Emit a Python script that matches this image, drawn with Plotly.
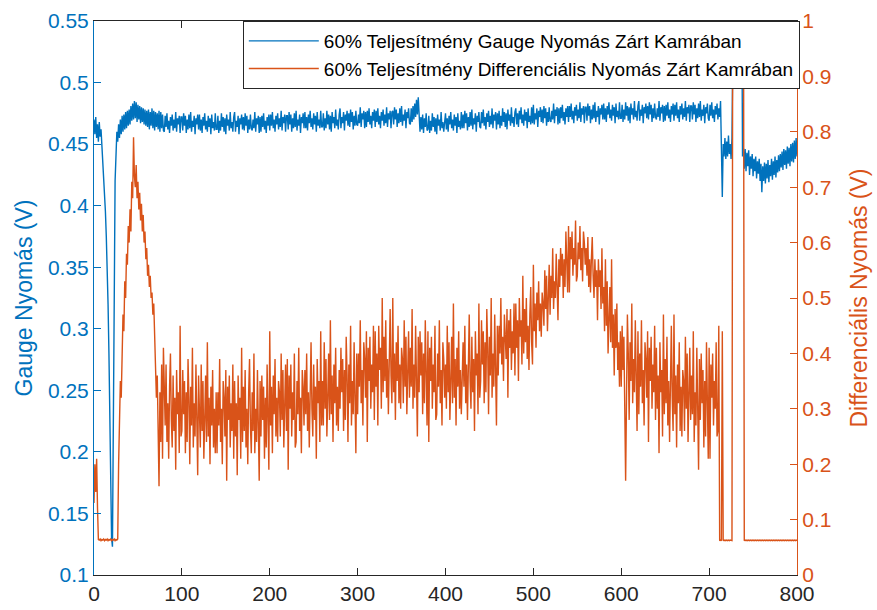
import plotly.graph_objects as go

# time axis (s), one sample per unit
t = list(range(0, 801))

gauge = [
    0.47, 0.458, 0.472, 0.455, 0.466, 0.452, 0.468, 0.456, 0.462, 0.45, 0.44, 0.428, 0.415, 0.395, 0.375, 0.355, 0.32, 0.28, 0.23, 0.17,
    0.13, 0.123, 0.2, 0.32, 0.42, 0.452, 0.46, 0.452, 0.466, 0.455, 0.47, 0.458, 0.473, 0.46, 0.474, 0.462, 0.476, 0.463, 0.477, 0.465,
    0.478, 0.466, 0.481, 0.469, 0.483, 0.47, 0.485, 0.471, 0.484, 0.468, 0.482, 0.47, 0.481, 0.467, 0.48, 0.468, 0.479, 0.466, 0.478, 0.465,
    0.477, 0.464, 0.478, 0.462, 0.476, 0.465, 0.479, 0.463, 0.477, 0.461, 0.476, 0.464, 0.475, 0.462, 0.477, 0.46, 0.476, 0.463, 0.474, 0.461,
    0.46, 0.473, 0.464, 0.475, 0.462, 0.469, 0.459, 0.472, 0.465, 0.474, 0.461, 0.47, 0.463, 0.476, 0.46, 0.471, 0.466, 0.473, 0.459, 0.472,
    0.472, 0.461, 0.475, 0.465, 0.473, 0.459, 0.47, 0.462, 0.474, 0.463, 0.476, 0.46, 0.469, 0.464, 0.473, 0.458, 0.471, 0.466, 0.474, 0.462,
    0.474, 0.461, 0.47, 0.459, 0.472, 0.465, 0.475, 0.462, 0.469, 0.46, 0.473, 0.464, 0.471, 0.458, 0.474, 0.463, 0.468, 0.461, 0.475, 0.462,
    0.462, 0.473, 0.459, 0.469, 0.461, 0.475, 0.464, 0.472, 0.46, 0.471, 0.458, 0.474, 0.465, 0.47, 0.461, 0.476, 0.463, 0.468, 0.46, 0.472,
    0.476, 0.46, 0.469, 0.464, 0.473, 0.458, 0.471, 0.466, 0.474, 0.462, 0.472, 0.461, 0.475, 0.465, 0.473, 0.459, 0.47, 0.462, 0.474, 0.463,
    0.461, 0.47, 0.463, 0.476, 0.46, 0.471, 0.466, 0.473, 0.459, 0.472, 0.46, 0.473, 0.464, 0.475, 0.462, 0.469, 0.459, 0.472, 0.465, 0.474,
    0.461, 0.474, 0.465, 0.476, 0.463, 0.47, 0.46, 0.473, 0.466, 0.475, 0.462, 0.471, 0.464, 0.477, 0.461, 0.472, 0.467, 0.474, 0.46, 0.473,
    0.473, 0.462, 0.476, 0.466, 0.474, 0.46, 0.471, 0.463, 0.475, 0.464, 0.477, 0.461, 0.47, 0.465, 0.474, 0.459, 0.472, 0.467, 0.475, 0.463,
    0.476, 0.463, 0.472, 0.461, 0.474, 0.467, 0.477, 0.464, 0.471, 0.462, 0.475, 0.466, 0.473, 0.46, 0.476, 0.465, 0.47, 0.463, 0.477, 0.464,
    0.464, 0.475, 0.461, 0.471, 0.463, 0.477, 0.466, 0.474, 0.462, 0.473, 0.46, 0.476, 0.467, 0.472, 0.463, 0.478, 0.465, 0.47, 0.462, 0.474,
    0.479, 0.463, 0.472, 0.467, 0.476, 0.461, 0.474, 0.469, 0.477, 0.465, 0.475, 0.464, 0.478, 0.468, 0.476, 0.462, 0.473, 0.465, 0.477, 0.466,
    0.465, 0.474, 0.467, 0.48, 0.464, 0.475, 0.47, 0.477, 0.463, 0.476, 0.464, 0.477, 0.468, 0.479, 0.466, 0.473, 0.463, 0.476, 0.469, 0.478,
    0.464, 0.477, 0.468, 0.479, 0.466, 0.473, 0.463, 0.476, 0.469, 0.478, 0.465, 0.474, 0.467, 0.48, 0.464, 0.475, 0.47, 0.477, 0.463, 0.476,
    0.477, 0.466, 0.48, 0.47, 0.478, 0.464, 0.475, 0.467, 0.479, 0.468, 0.481, 0.465, 0.474, 0.469, 0.478, 0.463, 0.476, 0.471, 0.479, 0.467,
    0.466, 0.479, 0.468, 0.481, 0.47, 0.483, 0.472, 0.486, 0.474, 0.488, 0.476, 0.46, 0.472, 0.462, 0.474, 0.459, 0.471, 0.464, 0.475, 0.461,
    0.462, 0.473, 0.459, 0.469, 0.461, 0.475, 0.464, 0.472, 0.46, 0.471, 0.458, 0.474, 0.465, 0.47, 0.461, 0.476, 0.463, 0.468, 0.46, 0.472,
    0.475, 0.462, 0.471, 0.46, 0.473, 0.466, 0.476, 0.463, 0.47, 0.461, 0.474, 0.465, 0.472, 0.459, 0.475, 0.464, 0.469, 0.462, 0.476, 0.463,
    0.474, 0.463, 0.477, 0.467, 0.475, 0.461, 0.472, 0.464, 0.476, 0.465, 0.478, 0.462, 0.471, 0.466, 0.475, 0.46, 0.473, 0.468, 0.476, 0.464,
    0.463, 0.476, 0.467, 0.478, 0.465, 0.472, 0.462, 0.475, 0.468, 0.477, 0.464, 0.473, 0.466, 0.479, 0.463, 0.474, 0.469, 0.476, 0.462, 0.475,
    0.466, 0.477, 0.463, 0.473, 0.465, 0.479, 0.468, 0.476, 0.464, 0.475, 0.462, 0.478, 0.469, 0.474, 0.465, 0.48, 0.467, 0.472, 0.464, 0.476,
    0.479, 0.466, 0.475, 0.464, 0.477, 0.47, 0.48, 0.467, 0.474, 0.465, 0.478, 0.469, 0.476, 0.463, 0.479, 0.468, 0.473, 0.466, 0.48, 0.467,
    0.482, 0.466, 0.475, 0.47, 0.479, 0.464, 0.477, 0.472, 0.48, 0.468, 0.478, 0.467, 0.481, 0.471, 0.479, 0.465, 0.476, 0.468, 0.48, 0.469,
    0.468, 0.477, 0.47, 0.483, 0.467, 0.478, 0.473, 0.48, 0.466, 0.479, 0.467, 0.48, 0.471, 0.482, 0.469, 0.476, 0.466, 0.479, 0.472, 0.481,
    0.468, 0.481, 0.472, 0.483, 0.47, 0.477, 0.467, 0.48, 0.473, 0.482, 0.469, 0.478, 0.471, 0.484, 0.468, 0.479, 0.474, 0.481, 0.467, 0.48,
    0.48, 0.469, 0.483, 0.473, 0.481, 0.467, 0.478, 0.47, 0.482, 0.471, 0.484, 0.468, 0.477, 0.472, 0.481, 0.466, 0.479, 0.474, 0.482, 0.47,
    0.483, 0.47, 0.479, 0.468, 0.481, 0.474, 0.484, 0.471, 0.478, 0.469, 0.482, 0.473, 0.48, 0.467, 0.483, 0.472, 0.477, 0.47, 0.484, 0.471,
    0.471, 0.482, 0.468, 0.478, 0.47, 0.484, 0.473, 0.481, 0.469, 0.48, 0.467, 0.483, 0.474, 0.479, 0.47, 0.485, 0.472, 0.477, 0.469, 0.481,
    0.485, 0.469, 0.478, 0.473, 0.482, 0.467, 0.48, 0.475, 0.483, 0.471, 0.481, 0.47, 0.484, 0.474, 0.482, 0.468, 0.479, 0.471, 0.483, 0.472,
    0.47, 0.479, 0.472, 0.485, 0.469, 0.48, 0.475, 0.482, 0.468, 0.481, 0.469, 0.482, 0.473, 0.484, 0.471, 0.478, 0.468, 0.481, 0.474, 0.483,
    0.469, 0.482, 0.473, 0.484, 0.471, 0.478, 0.468, 0.481, 0.474, 0.483, 0.47, 0.479, 0.472, 0.485, 0.469, 0.48, 0.475, 0.482, 0.468, 0.481,
    0.481, 0.47, 0.484, 0.474, 0.482, 0.468, 0.479, 0.471, 0.483, 0.472, 0.485, 0.469, 0.478, 0.473, 0.482, 0.467, 0.48, 0.475, 0.483, 0.471,
    0.469, 0.482, 0.473, 0.484, 0.471, 0.478, 0.468, 0.481, 0.474, 0.483, 0.47, 0.479, 0.472, 0.485, 0.43, 0.407, 0.45, 0.44, 0.455, 0.438,
    0.452, 0.44, 0.457, 0.442, 0.45, 0.438, 0.455, 0.6, 0.6, 0.6, 0.6, 0.6, 0.6, 0.6, 0.6, 0.6, 0.6, 0.6, 0.44, 0.447,
    0.43, 0.446, 0.428, 0.443, 0.432, 0.445, 0.425, 0.44, 0.43, 0.442, 0.424, 0.438, 0.428, 0.44, 0.422, 0.436, 0.426, 0.438, 0.42, 0.434,
    0.411, 0.432, 0.42, 0.435, 0.418, 0.434, 0.422, 0.437, 0.419, 0.433, 0.424, 0.438, 0.421, 0.436, 0.425, 0.44, 0.423, 0.437, 0.427, 0.441,
    0.428, 0.442, 0.431, 0.444, 0.429, 0.446, 0.433, 0.445, 0.43, 0.448, 0.434, 0.447, 0.432, 0.45, 0.436, 0.451, 0.435, 0.453, 0.438, 0.455,
    0.44,
]

differential = [
    0.13, 0.2, 0.15, 0.21, 0.12, 0.064, 0.063, 0.065, 0.062, 0.064, 0.063, 0.065, 0.062, 0.064, 0.063, 0.065, 0.062, 0.064, 0.063, 0.065,
    0.062, 0.064, 0.063, 0.065, 0.062, 0.064, 0.063, 0.065, 0.2, 0.28, 0.35, 0.32, 0.42, 0.47, 0.44, 0.53, 0.5, 0.58, 0.56, 0.63,
    0.6, 0.66, 0.62, 0.71, 0.68, 0.79, 0.72, 0.7, 0.74, 0.68, 0.71, 0.66, 0.69, 0.64, 0.67, 0.62, 0.65, 0.6, 0.62, 0.57,
    0.59, 0.54, 0.56, 0.52, 0.54, 0.5, 0.51, 0.47, 0.49, 0.43, 0.38, 0.32, 0.36, 0.27, 0.16, 0.33, 0.24, 0.38, 0.21, 0.41,
    0.35, 0.27, 0.38, 0.24, 0.31, 0.21, 0.34, 0.40, 0.28, 0.23, 0.36, 0.26, 0.32, 0.19, 0.37, 0.29, 0.33, 0.22, 0.45, 0.25,
    0.26, 0.37, 0.29, 0.35, 0.22, 0.33, 0.24, 0.39, 0.32, 0.20, 0.34, 0.27, 0.41, 0.23, 0.31, 0.25, 0.38, 0.28, 0.18, 0.36,
    0.31, 0.23, 0.38, 0.26, 0.35, 0.21, 0.28, 0.36, 0.24, 0.42, 0.25, 0.32, 0.20, 0.34, 0.27, 0.37, 0.23, 0.30, 0.22, 0.33,
    0.22, 0.33, 0.27, 0.39, 0.24, 0.30, 0.20, 0.35, 0.32, 0.25, 0.37, 0.17, 0.34, 0.28, 0.36, 0.23, 0.31, 0.26, 0.38, 0.21,
    0.35, 0.25, 0.31, 0.18, 0.36, 0.28, 0.32, 0.21, 0.41, 0.24, 0.34, 0.26, 0.37, 0.23, 0.30, 0.20, 0.33, 0.39, 0.27, 0.22,
    0.33, 0.26, 0.40, 0.22, 0.30, 0.24, 0.37, 0.27, 0.17, 0.35, 0.25, 0.36, 0.28, 0.34, 0.21, 0.32, 0.23, 0.38, 0.31, 0.19,
    0.44, 0.27, 0.34, 0.22, 0.36, 0.29, 0.39, 0.25, 0.32, 0.24, 0.35, 0.33, 0.25, 0.40, 0.28, 0.37, 0.23, 0.30, 0.38, 0.26,
    0.39, 0.19, 0.36, 0.30, 0.38, 0.25, 0.33, 0.28, 0.40, 0.23, 0.24, 0.35, 0.29, 0.41, 0.26, 0.32, 0.22, 0.37, 0.34, 0.27,
    0.37, 0.29, 0.40, 0.26, 0.33, 0.23, 0.36, 0.42, 0.30, 0.25, 0.38, 0.28, 0.34, 0.21, 0.39, 0.31, 0.35, 0.24, 0.44, 0.27,
    0.35, 0.27, 0.42, 0.30, 0.39, 0.25, 0.32, 0.40, 0.28, 0.46, 0.29, 0.36, 0.24, 0.38, 0.31, 0.41, 0.27, 0.34, 0.26, 0.37,
    0.30, 0.41, 0.33, 0.39, 0.26, 0.37, 0.28, 0.43, 0.36, 0.24, 0.38, 0.31, 0.45, 0.27, 0.35, 0.29, 0.42, 0.32, 0.22, 0.40,
    0.29, 0.40, 0.34, 0.46, 0.31, 0.37, 0.27, 0.42, 0.39, 0.32, 0.44, 0.24, 0.41, 0.35, 0.43, 0.30, 0.38, 0.33, 0.45, 0.28,
    0.44, 0.34, 0.40, 0.27, 0.45, 0.37, 0.41, 0.30, 0.50, 0.33, 0.43, 0.35, 0.46, 0.32, 0.39, 0.29, 0.42, 0.48, 0.36, 0.31,
    0.50, 0.33, 0.40, 0.28, 0.42, 0.35, 0.45, 0.31, 0.38, 0.30, 0.41, 0.39, 0.31, 0.46, 0.34, 0.43, 0.29, 0.36, 0.44, 0.32,
    0.41, 0.34, 0.48, 0.30, 0.38, 0.32, 0.45, 0.35, 0.25, 0.43, 0.33, 0.44, 0.36, 0.42, 0.29, 0.40, 0.31, 0.46, 0.39, 0.27,
    0.44, 0.24, 0.41, 0.35, 0.43, 0.30, 0.38, 0.33, 0.45, 0.28, 0.29, 0.40, 0.34, 0.46, 0.31, 0.37, 0.27, 0.42, 0.39, 0.32,
    0.38, 0.30, 0.45, 0.33, 0.42, 0.28, 0.35, 0.43, 0.31, 0.49, 0.32, 0.39, 0.27, 0.41, 0.34, 0.44, 0.30, 0.37, 0.29, 0.40,
    0.42, 0.34, 0.45, 0.31, 0.38, 0.28, 0.41, 0.47, 0.35, 0.30, 0.43, 0.33, 0.39, 0.26, 0.44, 0.36, 0.40, 0.29, 0.49, 0.32,
    0.35, 0.46, 0.38, 0.44, 0.31, 0.42, 0.33, 0.48, 0.41, 0.29, 0.43, 0.36, 0.50, 0.32, 0.40, 0.34, 0.47, 0.37, 0.27, 0.45,
    0.36, 0.45, 0.40, 0.50, 0.38, 0.43, 0.35, 0.47, 0.44, 0.39, 0.48, 0.32, 0.46, 0.41, 0.48, 0.37, 0.44, 0.40, 0.49, 0.36,
    0.49, 0.41, 0.46, 0.35, 0.50, 0.43, 0.46, 0.38, 0.54, 0.40, 0.48, 0.42, 0.50, 0.39, 0.45, 0.37, 0.47, 0.52, 0.42, 0.38,
    0.56, 0.44, 0.49, 0.41, 0.51, 0.46, 0.53, 0.44, 0.49, 0.43, 0.51, 0.49, 0.45, 0.55, 0.48, 0.54, 0.44, 0.50, 0.56, 0.47,
    0.54, 0.50, 0.59, 0.48, 0.53, 0.50, 0.58, 0.52, 0.46, 0.57, 0.52, 0.59, 0.54, 0.58, 0.50, 0.57, 0.52, 0.62, 0.58, 0.51,
    0.63, 0.51, 0.61, 0.57, 0.62, 0.54, 0.59, 0.56, 0.64, 0.53, 0.54, 0.60, 0.57, 0.63, 0.55, 0.59, 0.53, 0.62, 0.60, 0.56,
    0.59, 0.54, 0.61, 0.52, 0.57, 0.51, 0.57, 0.61, 0.54, 0.50, 0.57, 0.52, 0.55, 0.46, 0.57, 0.52, 0.55, 0.48, 0.59, 0.49,
    0.52, 0.44, 0.57, 0.45, 0.53, 0.40, 0.46, 0.52, 0.42, 0.57, 0.41, 0.47, 0.36, 0.48, 0.41, 0.49, 0.37, 0.42, 0.34, 0.44,
    0.34, 0.45, 0.37, 0.43, 0.30, 0.17, 0.32, 0.47, 0.40, 0.28, 0.42, 0.35, 0.49, 0.31, 0.39, 0.33, 0.46, 0.36, 0.26, 0.44,
    0.29, 0.40, 0.34, 0.46, 0.31, 0.37, 0.27, 0.42, 0.39, 0.32, 0.44, 0.24, 0.41, 0.35, 0.43, 0.30, 0.38, 0.33, 0.45, 0.28,
    0.41, 0.30, 0.36, 0.22, 0.42, 0.33, 0.37, 0.25, 0.47, 0.29, 0.39, 0.31, 0.43, 0.27, 0.35, 0.24, 0.38, 0.45, 0.32, 0.26,
    0.47, 0.29, 0.36, 0.23, 0.38, 0.31, 0.42, 0.26, 0.34, 0.25, 0.37, 0.35, 0.26, 0.43, 0.30, 0.40, 0.24, 0.32, 0.41, 0.28,
    0.36, 0.29, 0.44, 0.24, 0.33, 0.27, 0.41, 0.30, 0.19, 0.39, 0.28, 0.40, 0.31, 0.37, 0.23, 0.35, 0.25, 0.42, 0.34, 0.21,
    0.41, 0.21, 0.38, 0.32, 0.40, 0.27, 0.35, 0.30, 0.42, 0.25, 0.26, 0.45, 0.062, 0.063, 0.062, 0.44, 0.063, 0.062, 0.063, 0.062,
    0.063, 0.062, 0.063, 0.062, 0.063, 0.062, 0.062, 1.2, 1.2, 1.2, 1.2, 1.2, 1.2, 1.2, 1.2, 1.2, 1.2, 1.2, 1.2, 1.2,
    0.062, 0.063, 0.062, 0.063, 0.062, 0.063, 0.062, 0.063, 0.062, 0.063, 0.062, 0.063, 0.062, 0.063, 0.062, 0.063, 0.062, 0.063, 0.062, 0.063,
    0.062, 0.063, 0.062, 0.063, 0.062, 0.063, 0.062, 0.063, 0.062, 0.063, 0.062, 0.063, 0.062, 0.063, 0.062, 0.063, 0.062, 0.063, 0.062, 0.063,
    0.062, 0.063, 0.062, 0.063, 0.062, 0.063, 0.062, 0.063, 0.062, 0.063, 0.062, 0.063, 0.062, 0.063, 0.062, 0.063, 0.062, 0.063, 0.062, 0.063,
    0.062,
]

x_ticks = [0, 100, 200, 300, 400, 500, 600, 700, 800]
left_ticks = [0.1, 0.15, 0.2, 0.25, 0.3, 0.35, 0.4, 0.45, 0.5, 0.55]
right_ticks = [0, 0.1, 0.2, 0.3, 0.4, 0.5, 0.6, 0.7, 0.8, 0.9, 1]

BLUE = "#0072BD"
ORANGE = "#D95319"
DARK = "#262626"
FONT = "Liberation Sans, Arial, sans-serif"

fig = go.Figure()
fig.add_trace(go.Scatter(
    x=t, y=gauge, mode="lines", line=dict(color=BLUE, width=1.4),
    name="60% Teljesítmény Gauge Nyomás Zárt Kamrában", yaxis="y"))
fig.add_trace(go.Scatter(
    x=t, y=differential, mode="lines", line=dict(color=ORANGE, width=1.4),
    name="60% Teljesítmény Differenciális Nyomás Zárt Kamrában", yaxis="y2"))

fig.update_layout(
    width=877, height=610,
    margin=dict(l=94, r=80, t=21, b=35, autoexpand=False),
    paper_bgcolor="white", plot_bgcolor="white",
    font=dict(family=FONT, size=21, color=DARK),
    showlegend=True,
    legend=dict(x=1.004, xanchor="right", y=1, yanchor="top",
                bgcolor="white", bordercolor=DARK, borderwidth=1,
                itemwidth=70,
                font=dict(size=19, color="black"), tracegroupgap=0),
    xaxis=dict(range=[0, 800], tickvals=x_ticks, ticks="inside", ticklen=7,
               tickcolor=DARK, showline=True, linecolor=DARK, linewidth=1,
               mirror="ticks", showgrid=False, zeroline=False, automargin=False,
               tickfont=dict(size=21, color=DARK)),
    yaxis=dict(range=[0.1, 0.55], tickvals=left_ticks, ticks="inside", ticklen=7,
               tickcolor=BLUE, showline=True, linecolor=BLUE, linewidth=1,
               showgrid=False, zeroline=False, automargin=False,
               tickfont=dict(size=21, color=BLUE),
               title=dict(text="Gauge Nyomás (V)", font=dict(size=23, color=BLUE), standoff=8)),
    yaxis2=dict(range=[0, 1], tickvals=right_ticks, ticks="inside", ticklen=7,
                tickcolor=ORANGE, showline=True, linecolor=ORANGE, linewidth=1,
                overlaying="y", side="right", showgrid=False, zeroline=False, automargin=False,
                tickfont=dict(size=21, color=ORANGE),
                title=dict(text="Differenciális Nyomás (V)", font=dict(size=23, color=ORANGE), standoff=20)),
)

fig.write_html("out.html")
